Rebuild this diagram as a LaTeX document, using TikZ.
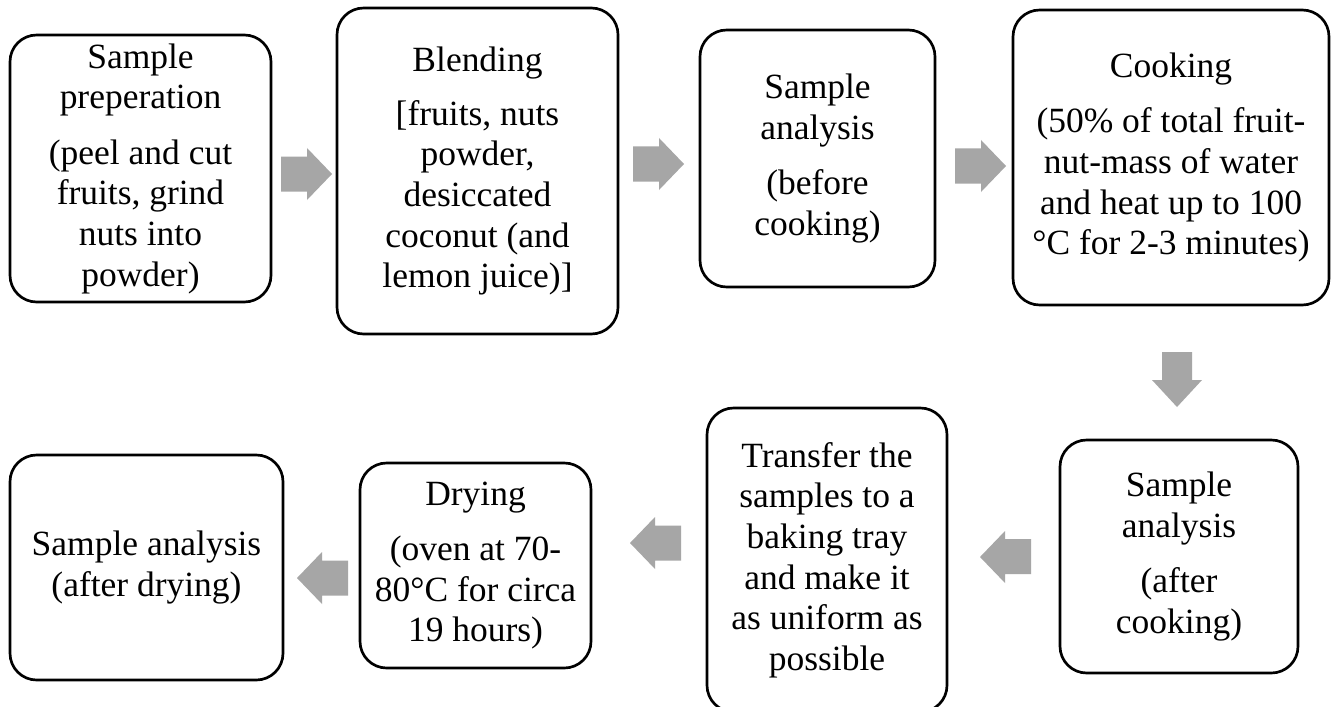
\documentclass[tikz,border=0pt]{standalone}
\usepackage{fontspec}
\setmainfont{Liberation Serif}
\begin{document}
\begin{tikzpicture}[x=0.75pt,y=-0.75pt,
  stepbox/.style={draw=black,line width=2pt,rounded corners=20pt,fill=white,
    inner sep=0pt,align=center,font=\fontsize{26.6}{30.5}\selectfont},
  garrow/.style={fill=arrowgray,draw=none}]
\definecolor{arrowgray}{RGB}{166,166,166}
\useasboundingbox (0,0) rectangle (1333,706);
\fill[white] (0,0) rectangle (1333,706);
% boxes
\node[stepbox,minimum width=195.75pt,minimum height=200.25pt] (b1) at (140.5,168.5)
  {Sample\\preperation\\[11pt](peel and cut\\fruits, grind\\nuts into\\powder)};
\node[stepbox,minimum width=210.75pt,minimum height=244.5pt] (b2) at (477.5,171)
  {Blending\\[10pt]{[}fruits, nuts\\powder,\\desiccated\\coconut (and\\lemon juice){]}};
\node[stepbox,minimum width=176.25pt,minimum height=192.75pt] (b3) at (817.5,158.5)
  {Sample\\analysis\\[11pt](before\\cooking)};
\node[stepbox,minimum width=237pt,minimum height=221.25pt] (b4) at (1171,157.5)
  {Cooking\\[11pt](50\% of total fruit-\\nut-mass of water\\and heat up to 100\\°C for 2-3 minutes)};
\node[stepbox,minimum width=178.5pt,minimum height=174.75pt] (b5) at (1179,556.5)
  {Sample\\analysis\\[11pt](after\\cooking)};
\node[stepbox,minimum width=180pt,minimum height=228pt] (b6) at (827,560)
  {Transfer the\\samples to a\\baking tray\\and make it\\as uniform as\\possible};
\node[stepbox,minimum width=173.25pt,minimum height=153.75pt] (b7) at (475.5,565.5)
  {Drying\\[11pt](oven at 70-\\80°C for circa\\19 hours)};
\node[stepbox,minimum width=204.75pt,minimum height=168.75pt] (b8) at (146.5,567.5)
  {Sample analysis\\(after drying)};
% block arrows (right)
\fill[garrow] (281,156.5) -- (307,156.5) -- (307,148) -- (332,174) -- (307,200) -- (307,191.5) -- (281,191.5) -- cycle;
\fill[garrow] (633,146.5) -- (659,146.5) -- (659,138) -- (684,164) -- (659,190) -- (659,181.5) -- (633,181.5) -- cycle;
\fill[garrow] (955,148.5) -- (981,148.5) -- (981,140) -- (1006,166) -- (981,192) -- (981,183.5) -- (955,183.5) -- cycle;
% down arrow
\fill[garrow] (1162,352) -- (1192,352) -- (1192,380) -- (1202,380) -- (1177,407) -- (1152,380) -- (1162,380) -- cycle;
% left arrows
\fill[garrow] (1031,539) -- (1005,539) -- (1005,531) -- (980,557) -- (1005,583) -- (1005,574) -- (1031,574) -- cycle;
\fill[garrow] (681,525.5) -- (655,525.5) -- (655,517) -- (630,543) -- (655,569) -- (655,560.5) -- (681,560.5) -- cycle;
\fill[garrow] (348,560.5) -- (322,560.5) -- (322,552) -- (297,578) -- (322,604) -- (322,595.5) -- (348,595.5) -- cycle;
\end{tikzpicture}
\end{document}
